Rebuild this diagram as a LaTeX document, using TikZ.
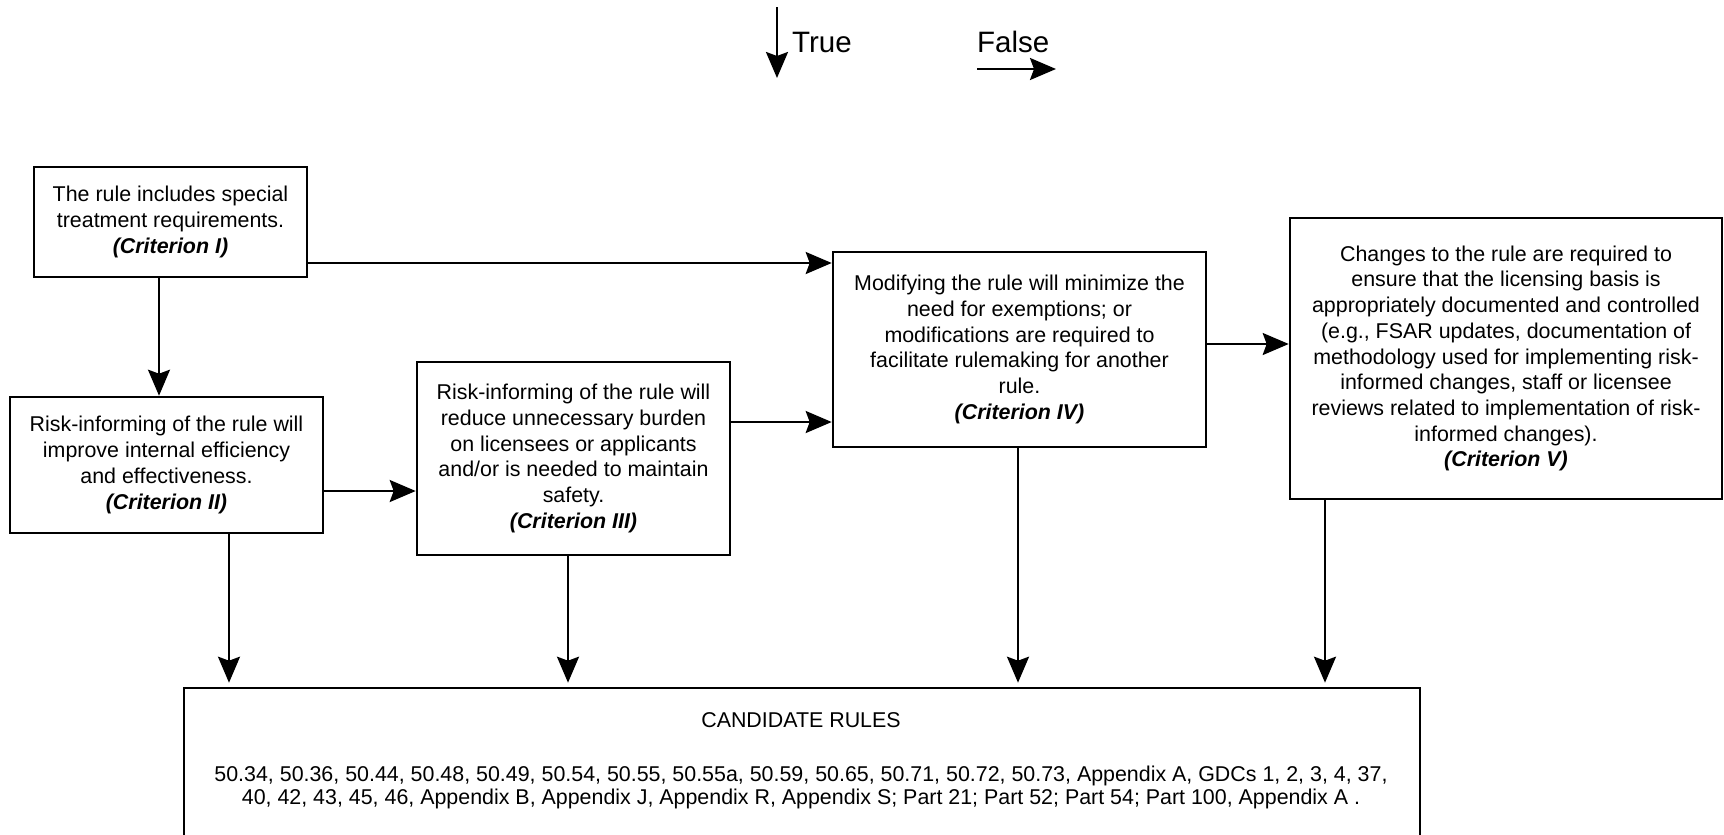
\documentclass[tikz,border=0pt]{standalone}
\usepackage{fontspec}
\setmainfont{Liberation Sans}
\usetikzlibrary{arrows.meta,calc}

\begin{document}
\begin{tikzpicture}[x=1pt,y=-1pt,
  box/.style={draw, line width=2.6pt, align=center, inner sep=0pt,
              font=\fontsize{21.4}{25.7}\selectfont},
  txt/.style={align=center, inner sep=0pt, font=\fontsize{21.4}{23}\selectfont},
  legend/.style={inner sep=0pt, anchor=west, font=\fontsize{29.5}{32}\selectfont},
  arr/.style={line width=2.4pt, -{Stealth[length=26pt,width=22pt,inset=4pt]}}
]
\useasboundingbox (0,0) rectangle (1724,835);
\clip (0,0) rectangle (1724,835);

% legend
\coordinate (tA) at (777,7);
\coordinate (tB) at (777,78);
\draw[arr] (tA) -- (tB);
\node[legend] (ltrue) at (792,42) {True};
\node[legend] (lfalse) at (977,42) {False};
\coordinate (fA) at (977,69);
\coordinate (fB) at (1056,69);
\draw[arr] (fA) -- (fB);

% criteria boxes
\node[box, minimum width=273pt, minimum height=110pt] (c1) at (170.5,222)
  {The rule includes special\\ treatment requirements.\\ \textbf{\textit{(Criterion I)}}};

\node[box, minimum width=313pt, minimum height=136pt] (c2) at (166.5,465)
  {Risk-informing of the rule will\\ improve internal efficiency\\ and effectiveness.\\ \textbf{\textit{(Criterion II)}}};

\node[box, minimum width=313pt, minimum height=193pt] (c3) at (573.5,458.5)
  {Risk-informing of the rule will\\ reduce unnecessary burden\\ on licensees or applicants\\ and/or is needed to maintain\\ safety.\\ \textbf{\textit{(Criterion III)}}};

\node[box, minimum width=373pt, minimum height=195pt] (c4) at (1019.5,349.5)
  {Modifying the rule will minimize the\\ need for exemptions; or\\ modifications are required to\\ facilitate rulemaking for another\\ rule.\\ \textbf{\textit{(Criterion IV)}}};

\node[box, minimum width=432pt, minimum height=281pt] (c5) at (1506,358.5)
  {Changes to the rule are required to\\ ensure that the licensing basis is\\ appropriately documented and controlled\\ (e.g., FSAR updates, documentation of\\ methodology used for implementing risk-\\ informed changes, staff or licensee\\ reviews related to implementation of risk-\\ informed changes).\\ \textbf{\textit{(Criterion V)}}};

% candidate rules box
\node[draw, line width=2.6pt, minimum width=1236pt, minimum height=170pt, inner sep=0pt] (cand) at (802,773) {};
\node[txt] (ctitle) at (801,720) {CANDIDATE RULES};
\node[txt] (clist) at (801,787)
  {50.34, 50.36, 50.44, 50.48, 50.49, 50.54, 50.55, 50.55a, 50.59, 50.65, 50.71, 50.72, 50.73, Appendix A, GDCs 1, 2, 3, 4, 37,\\
   40, 42, 43, 45, 46, Appendix B, Appendix J, Appendix R, Appendix S; Part 21; Part 52; Part 54; Part 100, Appendix A .};

% true branches
\draw[arr] ([xshift=-11.5pt]c1.south) -- ([xshift=-11.5pt]c1.south |- c2.north);
\draw[arr, shorten >=4pt] ([xshift=62.5pt]c2.south) -- ([xshift=62.5pt]c2.south |- cand.north);
\draw[arr, shorten >=4pt] ([xshift=-5.5pt]c3.south) -- ([xshift=-5.5pt]c3.south |- cand.north);
\draw[arr, shorten >=4pt] ([xshift=-1.5pt]c4.south) -- ([xshift=-1.5pt]c4.south |- cand.north);
\draw[arr, shorten >=4pt] ([xshift=-181pt]c5.south) -- ([xshift=-181pt]c5.south |- cand.north);

% false branches
\draw[arr] ([yshift=-41pt]c1.east) -- ([yshift=-41pt]c1.east -| c4.west);
\draw[arr] ([yshift=-26pt]c2.east) -- ([yshift=-26pt]c2.east -| c3.west);
\draw[arr] ([yshift=36.5pt]c3.east) -- ([yshift=36.5pt]c3.east -| c4.west);
\draw[arr] ([yshift=5.5pt]c4.east) -- ([yshift=5.5pt]c4.east -| c5.west);
\end{tikzpicture}
\end{document}
